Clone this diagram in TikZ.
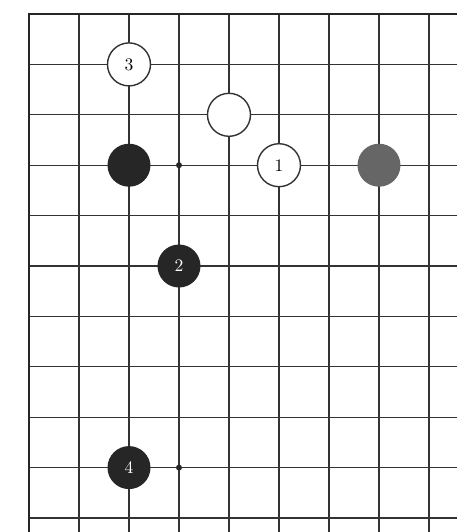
\documentclass[tikz,border=0pt]{standalone}
\usepackage{tikz}

\begin{document}
\begin{tikzpicture}[x=1cm,y=-1.008cm,
    whitestone/.style={circle,draw=black!80,thick,fill=white,minimum size=0.86cm,inner sep=0pt,font=\normalsize},
    blackstone/.style={circle,fill=black!85,text=white,minimum size=0.86cm,inner sep=0pt,font=\normalsize},
    greystone/.style={circle,fill=black!60,minimum size=0.86cm,inner sep=0pt}]
    \useasboundingbox (-0.58,-0.278) rectangle (8.56,10.278);
    \foreach \i in {1,...,8}
        \draw[black!80,line width=0.6pt] (\i,0) -- (\i,10.278);
    \foreach \k in {1,...,10}
        \draw[black!80,line width=0.6pt] (0,\k) -- (8.56,\k);
    \draw[black!85,line width=1.6pt] (0,10.278) -- (0,0) -- (8.56,0);
    \fill[black!85] (3,3) circle (0.06) (3,9) circle (0.06);
    \node[whitestone] (W3) at (2,1) {3};
    \node[whitestone] (W0) at (4,2) {};
    \node[blackstone] (B0) at (2,3) {};
    \node[whitestone] (W1) at (5,3) {1};
    \node[greystone] (G0) at (7,3) {};
    \node[blackstone] (B2) at (3,5) {2};
    \node[blackstone] (B4) at (2,9) {4};
\end{tikzpicture}
\end{document}
